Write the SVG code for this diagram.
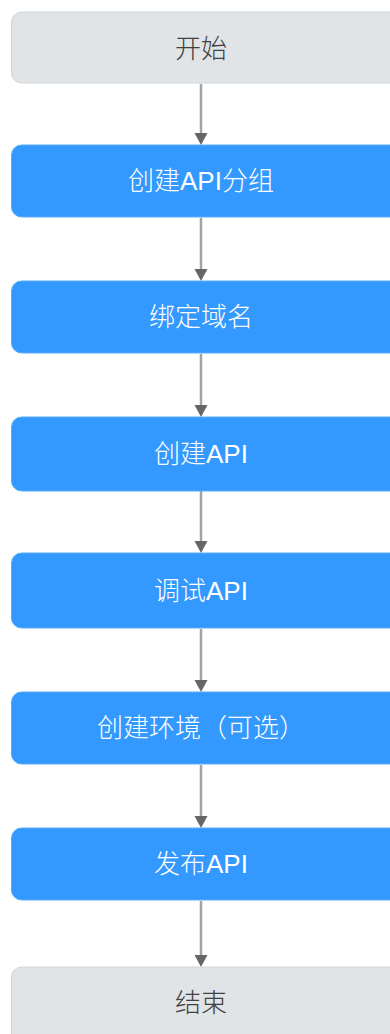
<svg xmlns="http://www.w3.org/2000/svg" width="390" height="1034" viewBox="0 0 390 1034">
  <defs>
    <style>
      .gray { fill: #e1e4e6; stroke: #d3d6d8; stroke-width: 1; }
      .blue { fill: #3399ff; stroke: #5aacfb; stroke-width: 1; }
      .lbl { font-family: "Liberation Sans", "Noto Sans CJK SC", sans-serif; font-size: 26px; font-weight: 300; text-anchor: middle; }
      .dark { fill: #404040; }
      .light { fill: #ffffff; }
      .conn { stroke: #a3a3a3; stroke-width: 2.5; fill: none; }
      .head { fill: #666666; }
    </style>
  </defs>
  <rect x="0" y="0" width="390" height="1034" fill="#ffffff"/>
  <g id="connectors">
    <line class="conn" x1="201" y1="84" x2="201" y2="134"/>
    <polygon class="head" points="194.5,133 207.5,133 201,145"/>
    <line class="conn" x1="201" y1="218" x2="201" y2="270"/>
    <polygon class="head" points="194.5,269 207.5,269 201,281"/>
    <line class="conn" x1="201" y1="354" x2="201" y2="406"/>
    <polygon class="head" points="194.5,405 207.5,405 201,417"/>
    <line class="conn" x1="201" y1="491" x2="201" y2="542"/>
    <polygon class="head" points="194.5,541 207.5,541 201,553"/>
    <line class="conn" x1="201" y1="629" x2="201" y2="681"/>
    <polygon class="head" points="194.5,680 207.5,680 201,692"/>
    <line class="conn" x1="201" y1="765" x2="201" y2="817"/>
    <polygon class="head" points="194.5,816 207.5,816 201,828"/>
    <line class="conn" x1="201" y1="901" x2="201" y2="956"/>
    <polygon class="head" points="194.5,955 207.5,955 201,967"/>
  </g>
  <g id="start">
    <rect class="gray" x="11.5" y="12" width="390" height="71" rx="10"/>
    <text class="lbl dark" x="201" y="58">开始</text>
  </g>
  <g id="create-group">
    <rect class="blue" x="11.5" y="145" width="390" height="72" rx="10"/>
    <text class="lbl light" x="201" y="190">创建API分组</text>
  </g>
  <g id="bind-domain">
    <rect class="blue" x="11.5" y="281" width="390" height="72" rx="10"/>
    <text class="lbl light" x="201" y="326">绑定域名</text>
  </g>
  <g id="create-api">
    <rect class="blue" x="11.5" y="417" width="390" height="74" rx="10"/>
    <text class="lbl light" x="201" y="463">创建API</text>
  </g>
  <g id="debug-api">
    <rect class="blue" x="11.5" y="553" width="390" height="75" rx="10"/>
    <text class="lbl light" x="201" y="600">调试API</text>
  </g>
  <g id="create-env">
    <rect class="blue" x="11.5" y="692" width="390" height="72" rx="10"/>
    <text class="lbl light" x="201" y="737">创建环境（可选）</text>
  </g>
  <g id="publish-api">
    <rect class="blue" x="11.5" y="828" width="390" height="72" rx="10"/>
    <text class="lbl light" x="201" y="873">发布API</text>
  </g>
  <g id="end">
    <rect class="gray" x="11.5" y="967" width="390" height="80" rx="10"/>
    <text class="lbl dark" x="201" y="1012">结束</text>
  </g>
</svg>
